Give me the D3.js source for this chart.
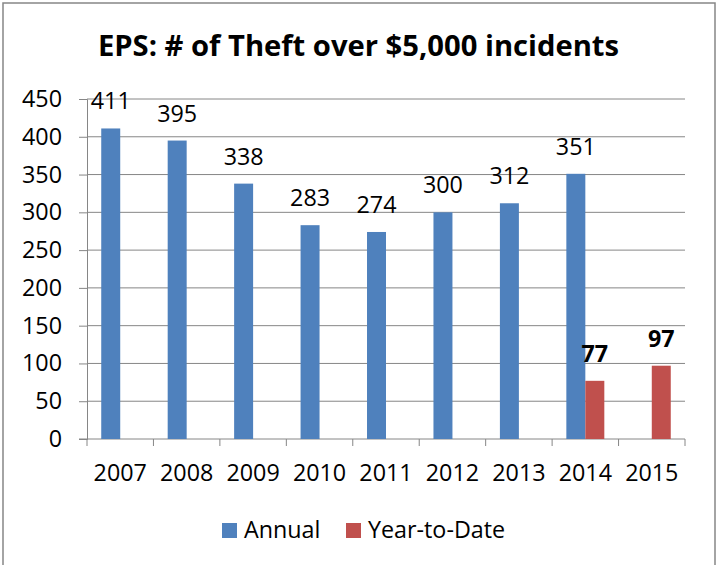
<!DOCTYPE html>
<html>
<head>
<meta charset="utf-8">
<script src="https://cdn.jsdelivr.net/npm/d3@7"></script>
<style>
  html, body { margin: 0; padding: 0; background: #fff; }
  svg { display: block; }
  text { font-family: "Open Sans", "Noto Sans", sans-serif; fill: #000; }
</style>
</head>
<body>
<svg id="chart" width="721" height="565"></svg>
<script>
// Chart data
const years = ["2007", "2008", "2009", "2010", "2011", "2012", "2013", "2014", "2015"];
const annual = [411, 395, 338, 283, 274, 300, 312, 351, null];
const yearToDate = [null, null, null, null, null, null, null, 77, 97];
const seriesNames = ["Annual", "Year-to-Date"];
const seriesColors = ["#4F81BD", "#C0504D"];
const yTicks = [0, 50, 100, 150, 200, 250, 300, 350, 400, 450];
const title = "EPS: # of Theft over $5,000 incidents";

const W = 721, H = 565;
const FS = 23.3;
const svg = d3.select("#chart");

// outer chart frame
svg.append("rect")
  .attr("x", 3).attr("y", 3)
  .attr("width", 712).attr("height", H + 10)
  .attr("fill", "#fff")
  .attr("stroke", "#868686").attr("stroke-width", 1.5);

const plot = { left: 87, right: 685, top: 99, bottom: 439 };

const x = d3.scaleBand().domain(years).range([plot.left, plot.right]).padding(0);
const y = d3.scaleLinear().domain([0, 450]).range([plot.bottom, plot.top]);

// bar geometry within a category: two bars, gap 150%
const barW = x.bandwidth() / 3.5;
const seriesOffset = i => x.bandwidth() / 2 - barW + i * barW;

// gridlines
svg.append("g")
  .selectAll("line")
  .data(yTicks.filter(d => d > 0))
  .join("line")
  .attr("x1", plot.left).attr("x2", plot.right)
  .attr("y1", d => y(d)).attr("y2", d => y(d))
  .attr("stroke", "#868686").attr("stroke-width", 1);

// y axis
const yAxis = svg.append("g")
  .attr("transform", `translate(${plot.left},0)`)
  .call(d3.axisLeft(y).tickValues(yTicks).tickSize(8).tickPadding(17));
yAxis.select(".domain").attr("stroke", "#868686");
yAxis.selectAll(".tick line").attr("stroke", "#868686");
yAxis.selectAll(".tick text").attr("font-size", FS).attr("font-family", "Open Sans").attr("fill", "#000");

// x axis: ticks at category boundaries
const xAxisG = svg.append("g").attr("transform", `translate(0,${plot.bottom})`);
xAxisG.append("line")
  .attr("x1", plot.left - 8).attr("x2", plot.right)
  .attr("stroke", "#868686").attr("stroke-width", 1);
xAxisG.selectAll("line.tk")
  .data(years.concat(["end"]))
  .join("line").attr("class", "tk")
  .attr("x1", (d, i) => plot.left + i * x.step())
  .attr("x2", (d, i) => plot.left + i * x.step())
  .attr("y1", 0).attr("y2", 7)
  .attr("stroke", "#868686").attr("stroke-width", 1);
xAxisG.selectAll("text")
  .data(years)
  .join("text")
  .attr("x", d => x(d) + x.bandwidth() / 2)
  .attr("y", 42)
  .attr("text-anchor", "middle")
  .attr("font-size", FS)
  .text(d => d);

// bars
const series = [annual, yearToDate];
series.forEach((vals, si) => {
  const g = svg.append("g");
  const pts = years.map((yr, i) => ({ yr, v: vals[i] })).filter(d => d.v != null);
  g.selectAll("rect")
    .data(pts)
    .join("rect")
    .attr("x", d => x(d.yr) + seriesOffset(si))
    .attr("y", d => y(d.v))
    .attr("width", barW)
    .attr("height", d => y(0) - y(d.v))
    .attr("fill", seriesColors[si]);
  g.selectAll("text")
    .data(pts)
    .join("text")
    .attr("x", d => x(d.yr) + seriesOffset(si) + barW / 2)
    .attr("y", d => y(d.v) - 19)
    .attr("text-anchor", "middle")
    .attr("font-size", FS)
    .attr("font-weight", si === 1 ? "bold" : "normal")
    .text(d => d.v);
});

// title
svg.append("text")
  .attr("x", 358.5).attr("y", 56)
  .attr("text-anchor", "middle")
  .attr("font-size", 29.2)
  .attr("font-weight", "bold")
  .text(title);

// legend
const legend = svg.append("g");
const legendItems = [
  { name: seriesNames[0], color: seriesColors[0], x: 222 },
  { name: seriesNames[1], color: seriesColors[1], x: 346 }
];
legendItems.forEach(it => {
  legend.append("rect")
    .attr("x", it.x).attr("y", 523)
    .attr("width", 15).attr("height", 15)
    .attr("fill", it.color);
  legend.append("text")
    .attr("x", it.x + 22).attr("y", 538)
    .attr("font-size", FS)
    .text(it.name);
});
</script>
</body>
</html>
